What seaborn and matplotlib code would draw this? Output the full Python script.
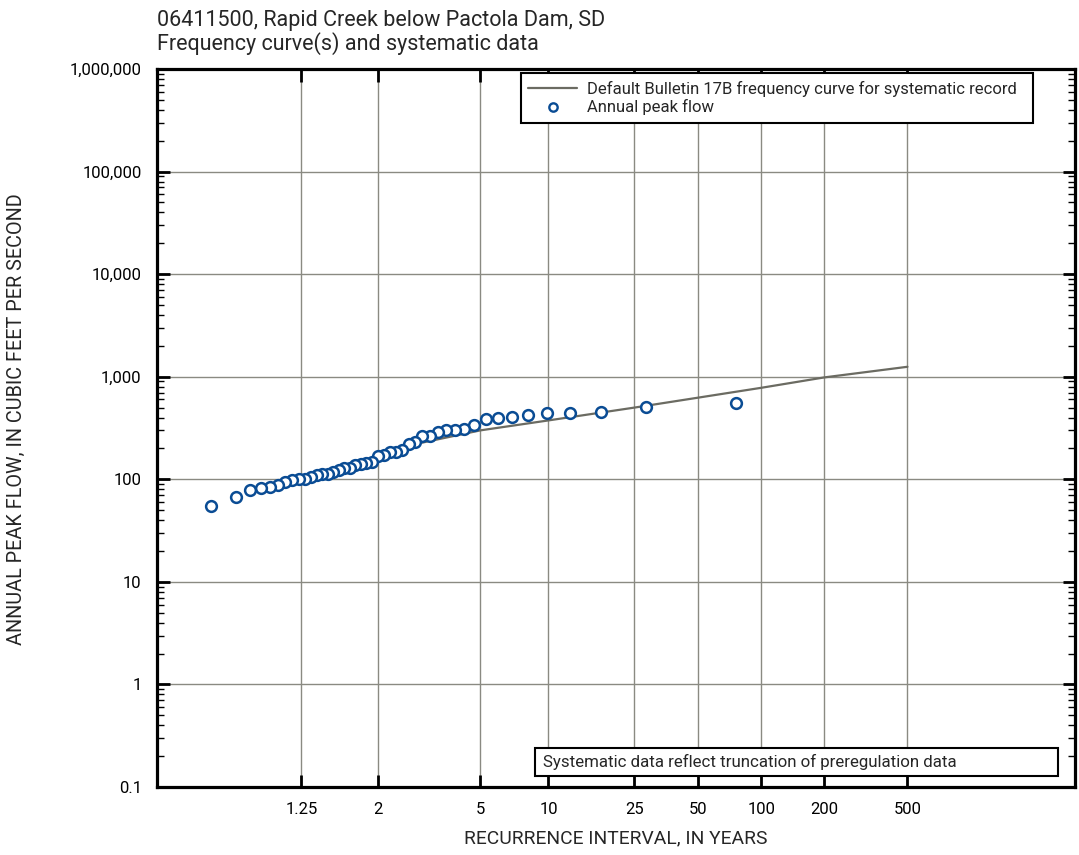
import warnings
warnings.filterwarnings('ignore')
import numpy as np
import pandas as pd
import matplotlib
matplotlib.use('Agg')
import matplotlib.pyplot as plt
import seaborn as sns
from matplotlib.lines import Line2D
from matplotlib.patches import Rectangle
from matplotlib.ticker import FixedLocator, NullLocator, LogLocator, NullFormatter

# recurrence interval (years) of each annual peak, largest flow first
peak_T = [75.333, 28.25, 17.385, 12.556, 9.826, 8.071, 6.848, 5.947, 5.256, 4.708,
          4.264, 3.897, 3.587, 3.324, 3.096, 2.897, 2.723, 2.568, 2.430, 2.306,
          2.194, 2.093, 2.000, 1.915, 1.837, 1.766, 1.699, 1.638, 1.580, 1.527,
          1.477, 1.430, 1.387, 1.345, 1.306, 1.270, 1.235, 1.202, 1.171, 1.141,
          1.113, 1.087, 1.061, 1.037, 1.013]
# annual peak flow, cubic feet per second
peak_Q = [550, 507, 453, 443, 440, 420, 406, 393, 384, 339,
          310, 303, 300, 287, 267, 265, 233, 223, 194, 186,
          184, 171, 169, 146, 143, 142, 138, 129, 128, 123,
          118, 113, 112, 110, 105, 101, 100, 98, 94, 88,
          84, 82, 78, 67, 55]

# Bulletin 17B frequency curve
curve_T = [2.6, 5, 10, 25, 50, 100, 200, 500]
curve_Q = [215, 300, 375, 500, 625, 780, 985, 1250]

x_ticks = [1.25, 2, 5, 10, 25, 50, 100, 200, 500]
x_ticklabels = ['1.25', '2', '5', '10', '25', '50', '100', '200', '500']
y_ticks = [0.1, 1, 10, 100, 1000, 10000, 100000, 1000000]
y_ticklabels = ['0.1', '1', '10', '100', '1,000', '10,000', '100,000', '1,000,000']

peaks = pd.DataFrame({'T': peak_T, 'Q': peak_Q})
curve = pd.DataFrame({'T': curve_T, 'Q': curve_Q})

sns.set_theme(style='white')
plt.rcParams['font.family'] = ['Roboto', 'DejaVu Sans']

blue = '#0a4c94'
gray_line = '#6b6b62'
grid_c = '#8a8a82'


# gumbel (extreme value) probability scale for recurrence interval
def gumbel_fwd(t):
    t = np.asarray(t, dtype=float)
    with np.errstate(all='ignore'):
        return -np.log(-np.log(1.0 - 1.0 / t))


def gumbel_inv(y):
    y = np.asarray(y, dtype=float)
    with np.errstate(all='ignore'):
        return 1.0 / (1.0 - np.exp(-np.exp(-y)))


fig = plt.figure(figsize=(10.79, 8.55), dpi=100)
ax = fig.add_axes([0.1455, 0.0795, 0.8508, 0.8398])

sns.lineplot(data=curve, x='T', y='Q', color=gray_line, linewidth=1.6, ax=ax, zorder=2)
sns.scatterplot(data=peaks, x='T', y='Q', marker='o', s=60, facecolor='white',
                edgecolor=blue, linewidth=1.8, ax=ax, zorder=3)

ax.set_autoscale_on(False)
ax.set_xlim(1.2, 600)
ax.set_xscale('function', functions=(gumbel_fwd, gumbel_inv))
ax.set_xlim(1.00036, 3175)
ax.set_yscale('log')
ax.set_ylim(0.1, 1000000)

ax.xaxis.set_major_locator(FixedLocator(x_ticks))
ax.xaxis.set_minor_locator(NullLocator())
ax.set_xticklabels(x_ticklabels)
ax.yaxis.set_major_locator(FixedLocator(y_ticks))
ax.set_yticklabels(y_ticklabels)
ax.yaxis.set_minor_locator(LogLocator(base=10, subs=np.arange(2, 10)))
ax.yaxis.set_minor_formatter(NullFormatter())

ax.set_axisbelow(True)
ax.grid(True, which='major', color=grid_c, linewidth=1.0)
for s in ax.spines.values():
    s.set_linewidth(2.3)
    s.set_color('black')
ax.tick_params(which='both', direction='in', top=True, right=True, bottom=True, left=True,
               colors='black')
ax.tick_params(which='major', length=9, width=2, labelsize=12, pad=11)
ax.tick_params(which='minor', length=5, width=1)

ax.set_xlabel('RECURRENCE INTERVAL, IN YEARS', fontsize=13.9, labelpad=9)
ax.set_ylabel('ANNUAL PEAK FLOW, IN CUBIC FEET PER SECOND', fontsize=14.3)
ax.yaxis.set_label_coords(-0.1425, 0.513)

fig.text(0.1455, 0.988, '06411500, Rapid Creek below Pactola Dam, SD\nFrequency curve(s) and systematic data',
         fontsize=15.5, va='top', ha='left', linespacing=1.05)

handles = [Line2D([], [], color=gray_line, linewidth=1.6),
           Line2D([], [], marker='o', linestyle='none', markersize=6,
                  markerfacecolor='white', markeredgecolor=blue, markeredgewidth=1.7)]
labels = ['Default Bulletin 17B frequency curve for systematic record', 'Annual peak flow']
leg = ax.legend(handles, labels, loc='upper left', bbox_to_anchor=(0.3965, 0.921, 0.5575, 0.073),
                mode='expand', fontsize=12, frameon=True, fancybox=False, borderaxespad=0,
                handlelength=2.9, labelspacing=0.15, borderpad=0.45, handletextpad=0.6)
leg.get_frame().set_edgecolor('black')
leg.get_frame().set_linewidth(1.5)
leg.get_frame().set_alpha(1)

ax.add_patch(Rectangle((0.4118, 0.0153), 0.5697, 0.039, transform=ax.transAxes,
                       facecolor='white', edgecolor='black', linewidth=1.5, zorder=5))
ax.text(0.4205, 0.0348, 'Systematic data reflect truncation of preregulation data',
        transform=ax.transAxes, fontsize=12.2, va='center', ha='left', zorder=6)

fig.savefig('out.png', dpi=100)
